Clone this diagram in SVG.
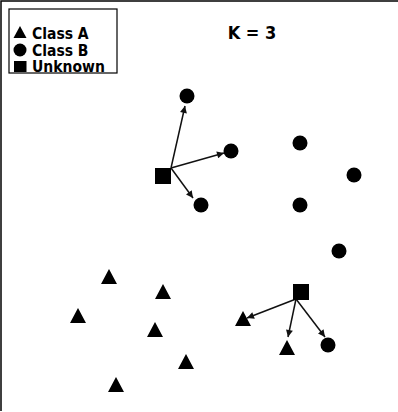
<svg xmlns="http://www.w3.org/2000/svg" width="398" height="412" viewBox="0 0 398 412">
<style>
.lbl{font-family:"DejaVu Sans Condensed","DejaVu Sans",sans-serif;font-size:15.5px;font-weight:bold;fill:#000}
.k{font-family:"DejaVu Sans Condensed","DejaVu Sans",sans-serif;font-size:18px;font-weight:bold;fill:#000}
.edge{stroke:#111;stroke-width:1.5;fill:none;marker-end:url(#ah)}
</style>
<defs>
<marker id="ah" viewBox="0 0 10 10" refX="10" refY="5" markerWidth="8" markerHeight="7" markerUnits="userSpaceOnUse" orient="auto"><path d="M0,0 L10,5 L0,10 z" fill="#111"/></marker>
<polygon id="tri" points="0,-8 8,7 -8,7" fill="#000"/>
</defs>
<rect width="398" height="412" fill="#fff"/>
<path d="M1,411 V1 H398" fill="none" stroke="#000" stroke-width="1.5"/>
<g id="legend">
<rect x="9" y="9" width="108" height="64" fill="#fff" stroke="#000" stroke-width="1.2"/>
<polygon points="20,26 26.5,38 13.5,38" fill="#000"/>
<circle cx="20" cy="50" r="6.5" fill="#000"/>
<rect x="14" y="61" width="12.5" height="11" fill="#000"/>
<text class="lbl" x="32" y="38.5">Class A</text>
<text class="lbl" x="32" y="55.5">Class B</text>
<text class="lbl" x="32" y="72">Unknown</text>
</g>
<g id="title"><text class="k" x="252" y="39" text-anchor="middle">K = 3</text></g>
<g id="connectors">
<line class="edge" x1="171" y1="168" x2="185" y2="106"/>
<line class="edge" x1="171" y1="168" x2="224" y2="153"/>
<line class="edge" x1="171" y1="168" x2="193" y2="198"/>
<line class="edge" x1="296" y1="299" x2="247" y2="318"/>
<line class="edge" x1="296" y1="299" x2="288" y2="337"/>
<line class="edge" x1="296" y1="299" x2="325" y2="337"/>
</g>
<g id="unknown1"><rect x="155" y="168" width="16" height="16" fill="#000"/></g>
<g id="unknown2"><rect x="293" y="284" width="16" height="16" fill="#000"/></g>
<g id="b1"><circle cx="187" cy="96" r="7.5" fill="#000"/></g>
<g id="b2"><circle cx="231" cy="151" r="7.5" fill="#000"/></g>
<g id="b3"><circle cx="201" cy="205" r="7.5" fill="#000"/></g>
<g id="b4"><circle cx="300" cy="143" r="7.5" fill="#000"/></g>
<g id="b5"><circle cx="354" cy="175" r="7.5" fill="#000"/></g>
<g id="b6"><circle cx="300" cy="205" r="7.5" fill="#000"/></g>
<g id="b7"><circle cx="339" cy="251" r="7.5" fill="#000"/></g>
<g id="b8"><circle cx="328" cy="345" r="7.5" fill="#000"/></g>
<g id="a1"><use href="#tri" x="243" y="319"/></g>
<g id="a2"><use href="#tri" x="287" y="348"/></g>
<g id="a3"><use href="#tri" x="109" y="277"/></g>
<g id="a4"><use href="#tri" x="163" y="292"/></g>
<g id="a5"><use href="#tri" x="78" y="316"/></g>
<g id="a6"><use href="#tri" x="155" y="330"/></g>
<g id="a7"><use href="#tri" x="186" y="362"/></g>
<g id="a8"><use href="#tri" x="116" y="385"/></g>
</svg>
